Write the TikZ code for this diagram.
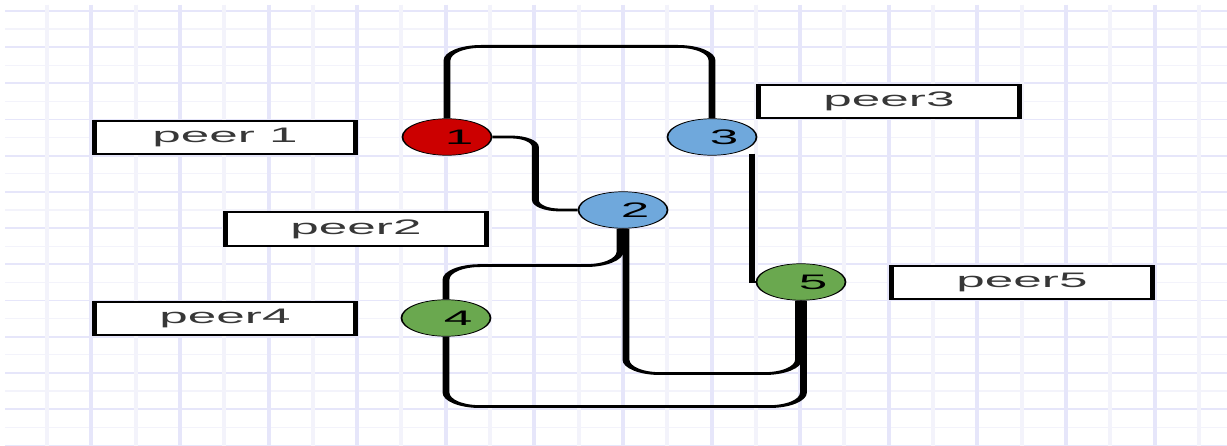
\documentclass[tikz,border=0pt]{standalone}
\usepackage{fontspec}
\setmainfont{Liberation Sans}
\usetikzlibrary{calc}
\definecolor{gridmajor}{RGB}{230,230,250}
\definecolor{gridminor}{RGB}{243,243,251}
\definecolor{peerred}{RGB}{204,0,0}
\definecolor{peerblue}{RGB}{111,168,220}
\definecolor{peergreen}{RGB}{106,168,79}
\definecolor{labelgray}{RGB}{55,55,55}
\begin{document}
\begin{tikzpicture}[x=1pt,y=-1pt,
  majorline/.style={gridmajor},
  minorline/.style={gridminor},
  peer/.style={circle, draw=black, line width=0.7pt, minimum size=36.5pt,
    inner sep=0pt, font=\fontsize{21}{21}\selectfont},
  namebox/.style={rectangle, draw=black, line width=1.8pt, fill=white,
    minimum width=107pt, minimum height=33.5pt, inner sep=0pt,
    text=labelgray, font=\fontsize{21}{21}\selectfont},
  conn/.style={draw=black, line width=2.8pt, rounded corners=14pt},
]
\useasboundingbox (0,0) rectangle (1227,446);
\fill[white] (0,0) rectangle (1227,446);

% squared paper: horizontal rules first, vertical rules on top
\foreach \k in {0,2,...,24}
  \draw[majorline, line width=1.8pt] (5,{11+18.1*\k}) -- (1227,{11+18.1*\k});
\foreach \k in {1,3,...,23}
  \draw[minorline, line width=1.2pt] (5,{11+18.1*\k}) -- (1227,{11+18.1*\k});
\foreach \k in {0,2,...,26}
  \draw[minorline, line width=4pt] ({47+44.3*\k},5) -- ({47+44.3*\k},446);
\foreach \k in {1,3,...,25}
  \draw[majorline, line width=4pt] ({47+44.3*\k},5) -- ({47+44.3*\k},446);

% the diagram itself is drawn on a horizontally stretched canvas
\begin{scope}[transform canvas={xscale=2.44}, x=0.40984pt, y=-1pt]
  % peers
  \node[peer, fill=peerred]   (n1) at (447,137) {\hspace*{10pt}1};
  \node[peer, fill=peerblue]  (n2) at (623,210) {\hspace*{10pt}2};
  \node[peer, fill=peerblue]  (n3) at (712,137) {\hspace*{10pt}3};
  \node[peer, fill=peergreen] (n4) at (446,318) {\hspace*{10pt}4};
  \node[peer, fill=peergreen] (n5) at (801,282) {\hspace*{10pt}5};

  % name tags
  \node[namebox] (b1) at (225,137.5) {peer 1};
  \node[namebox] (b2) at (356,229)   {peer2};
  \node[namebox] (b3) at (889,101.5) {peer3};
  \node[namebox] (b4) at (225,318.5) {peer4};
  \node[namebox] (b5) at (1022,282.5) {peer5};

  % links between peers
  \draw[conn] (n1.north) -- ++(0,-72) -| (n3.north);
  \draw[conn, rounded corners=10pt] (n1.east) -- ++(43,0) |- (n2.west);
  \draw[conn, rounded corners=0pt] ($(n3.south)+(40,-2)$) |- (n5.west);
  \draw[conn] ([xshift=-1.2pt]n2.south) -- ++(0,37) -| (n4.north);
  \draw[conn] ([xshift=1.2pt]n2.south) -- ++(0,145) -| ([xshift=-1pt]n5.south);
  \draw[conn] (n4.south) -- ++(0,70) -| ([xshift=1pt]n5.south);
\end{scope}
\end{tikzpicture}
\end{document}
